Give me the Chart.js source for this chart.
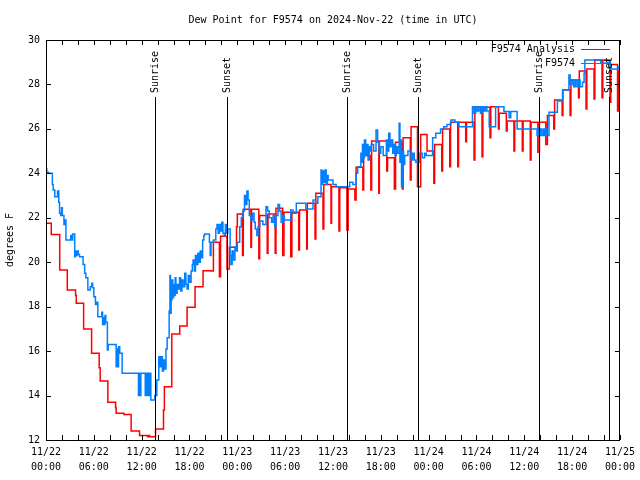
<!DOCTYPE html>
<html><head><meta charset="utf-8">
<script src="https://cdn.jsdelivr.net/npm/chart.js@4.4.1/dist/chart.umd.min.js"></script>
<style>html,body{margin:0;padding:0;background:#fff}#wrap{width:640px;height:480px}</style>
</head><body><div id="wrap"><canvas id="c" width="640" height="480"></canvas></div>
<script>
const titleText = 'Dew Point for F9574 on 2024-Nov-22 (time in UTC)';
const yTitle = 'degrees F';
const xTickHours = [0, 6, 12, 18, 24, 30, 36, 42, 48, 54, 60, 66, 72];
const xTickDates = ['11/22','11/22','11/22','11/22','11/23','11/23','11/23','11/23','11/24','11/24','11/24','11/24','11/25'];
const xTickTimes = ['00:00','06:00','12:00','18:00','00:00','06:00','12:00','18:00','00:00','06:00','12:00','18:00','00:00'];
const yTickValues = [12, 14, 16, 18, 20, 22, 24, 26, 28, 30];
const sunHours = [13.65, 22.65, 37.78, 46.62, 61.86, 70.63];
const sunLabels = ['Sunrise', 'Sunset', 'Sunrise', 'Sunset', 'Sunrise', 'Sunset'];
const seriesNames = ['F9574 Analysis', 'F9574'];

// Analysis (hourly, with brief dips)
const anaHours = [0,0.66,1.72,2.67,3.71,3.8,4.72,5.72,6.67,6.8,7.76,8.73,8.8,9.77,10.68,11.73,12.73,12.9,13.0,13.74,14.74,14.85,15.78,16.78,17.7,18.7,19.7,20.7,21.0,21.75,21.9,22.7,23.0,23.9,24.0,24.65,24.75,25.7,25.78,26.7,26.8,27.75,27.85,28.75,28.85,29.7,29.85,30.7,30.85,31.7,31.8,32.7,32.78,33.75,33.85,34.75,34.85,35.75,35.82,36.75,36.85,37.75,37.9,38.75,38.9,39.75,39.85,40.75,40.85,41.75,41.82,42.75,42.85,43.7,43.85,44.7,44.8,45.7,45.8,46.6,47.0,47.8,48.65,48.75,49.65,49.75,50.65,50.75,51.65,51.75,52.65,52.75,53.7,53.8,54.7,54.8,55.7,55.8,56.75,56.85,57.75,57.85,58.7,58.8,59.75,59.85,60.75,60.85,61.7,61.9,62.7,62.9,63.7,63.8,64.75,64.85,65.75,65.85,66.8,66.9,67.75,67.85,68.75,68.85,69.75,69.85,70.75,70.85,71.7,71.8,72];
const anaDewF = [21.75,21.25,19.65,18.75,18.5,18.15,17.0,15.9,15.25,14.65,13.7,13.45,13.2,13.15,12.4,12.2,12.15,12.2,12.15,12.5,13.35,14.4,16.77,17.13,17.97,18.9,19.62,19.6,20.9,19.35,21.17,19.7,20.67,21.6,22.17,20.3,22.38,20.67,22.38,20.16,22.1,20.4,22.17,20.4,22.43,20.3,22.25,20.25,22.25,20.55,22.35,20.6,22.65,21.05,23.1,21.5,23.5,21.75,23.4,21.4,23.35,21.45,23.3,22.8,24.27,23.25,24.8,23.25,25.45,23.1,25.45,24.1,24.7,23.3,25.4,23.3,25.6,23.7,26.1,23.4,25.75,25.0,23.55,25.3,24.1,26.0,24.3,26.3,24.3,26.3,25.42,26.3,24.6,26.97,24.75,26.97,25.6,27.0,26.0,26.7,25.9,26.35,25.0,26.35,25.0,26.35,24.6,26.3,24.95,26.3,25.3,26.6,26.0,27.3,26.6,27.75,26.6,28.2,27.4,28.6,26.9,28.7,27.35,29.1,27.4,29.1,27.2,28.9,26.8,28.6,28.6];

// Observations
const obsHours = [0,0.1,0.2,0.3,0.8,0.9,1.1,1.45,1.6,1.7,1.85,1.95,2.05,2.25,2.35,2.5,3.1,3.2,3.35,3.6,3.7,3.8,3.9,4.05,4.2,4.65,4.85,5.0,5.25,5.55,5.75,5.85,6.0,6.2,6.35,6.5,7.0,7.1,7.2,7.3,7.4,7.5,7.7,7.8,8.8,8.9,9.0,9.1,9.25,9.55,11.6,11.7,11.8,11.9,12.45,12.55,12.7,12.8,12.95,13.05,13.15,13.65,13.9,14.15,14.3,14.45,14.6,14.75,14.9,15.05,15.2,15.3,15.45,15.55,15.62,15.7,15.8,15.9,16.0,16.1,16.2,16.3,16.45,16.6,16.75,16.9,17.05,17.2,17.4,17.55,17.7,17.85,18.0,18.2,18.35,18.45,18.6,18.75,18.9,19.05,19.2,19.35,19.5,19.65,19.8,19.9,20.5,20.6,20.7,21.0,21.3,21.45,21.6,21.75,21.9,22.05,22.2,22.35,22.5,22.65,22.8,23.1,23.2,23.35,23.5,23.7,23.85,24.0,24.3,24.5,24.7,24.9,25.05,25.2,25.35,25.5,25.7,25.9,26.1,26.25,26.45,26.6,26.8,27.2,27.6,27.8,28.0,28.3,28.5,28.7,28.85,29.1,29.3,29.5,29.7,29.9,30.7,31.0,31.4,32.6,33.5,33.8,34.1,34.5,34.6,34.7,34.85,35.0,35.15,35.3,35.4,36.0,36.4,38.1,38.5,38.9,39.1,39.5,39.6,39.7,39.8,39.95,40.1,40.25,40.4,40.55,40.7,40.8,41.1,41.4,41.6,41.8,42.0,42.3,42.7,42.85,43.0,43.15,43.3,43.5,43.65,43.8,43.95,44.1,44.3,44.4,44.5,44.6,44.7,44.85,45.0,45.4,45.8,46.0,46.2,46.4,46.8,47.2,47.5,47.7,48.5,48.9,49.5,49.9,50.3,50.8,51.3,51.8,53.5,53.7,53.9,54.1,54.3,54.5,54.7,54.9,55.1,55.3,55.6,56.4,57.45,58.1,58.3,59.1,61.6,61.75,61.9,62.05,62.2,62.4,62.55,62.7,62.85,63.1,64.15,64.8,65.6,65.75,66.0,66.2,66.4,66.6,66.8,67.0,67.3,67.5,67.6,69.6,70.4,70.8,71.8,72];
const obsDewF = [24.2,24.0,24.05,24.0,23.5,23.25,22.95,23.2,22.7,22.2,22.1,22.45,22.1,21.7,21.9,21.0,21.2,21.0,21.27,20.25,20.5,20.3,20.5,20.35,20.25,19.9,19.5,19.3,18.75,18.9,19.05,18.85,18.45,18.1,18.2,17.55,17.75,17.2,17.5,17.2,17.6,17.3,16.05,16.3,15.3,16.1,15.3,16.2,15.9,15.0,14.0,15.0,14.0,15.0,14.0,15.0,14.0,15.0,14.0,15.0,13.8,14.0,14.7,15.75,15.3,15.75,15.1,15.6,15.2,16.1,16.6,16.6,17.8,19.4,17.7,18.3,19.2,18.4,19.0,18.5,19.3,18.6,19.0,18.8,19.3,18.7,19.2,18.9,19.5,19.0,18.8,19.4,19.1,19.6,19.9,20.1,19.6,20.3,19.9,20.4,20.0,20.5,20.2,21.0,21.2,21.27,20.9,20.3,20.9,21.0,21.5,21.7,21.3,21.7,21.4,21.8,21.3,21.2,21.7,21.3,21.5,20.3,19.9,20.5,20.1,20.7,20.5,20.9,21.6,22.0,22.3,23.0,22.6,23.2,22.8,22.1,21.9,22.2,21.8,21.5,21.2,21.6,21.85,21.7,22.5,22.3,22.0,21.8,22.1,21.6,22.1,22.6,22.3,21.8,22.1,21.9,22.35,22.2,22.65,22.4,22.8,22.65,22.95,24.15,23.5,24.1,23.6,24.15,23.5,23.9,23.7,23.5,23.4,23.6,23.5,24.0,24.3,24.9,24.5,25.3,24.7,25.5,24.8,25.3,24.6,25.2,25.0,25.3,25.0,25.95,25.4,24.9,25.2,24.8,25.5,25.0,25.8,25.2,25.5,24.9,25.3,24.8,25.2,24.9,26.25,24.5,25.5,23.4,25.0,24.4,24.8,25.0,24.6,24.9,24.6,24.5,24.9,24.7,24.9,24.8,25.6,25.8,26.0,26.1,26.2,26.4,26.3,26.1,27.0,26.7,27.0,26.8,27.0,26.7,27.0,26.8,27.0,26.8,26.1,27.0,26.78,26.5,26.78,26.0,25.7,26.0,25.7,26.0,25.7,26.0,25.7,26.0,25.7,26.75,27.25,27.75,28.43,28.0,28.2,27.9,28.2,27.9,28.2,27.9,28.1,28.5,29.1,28.95,29.0,28.7,28.8,28.8];

const FONT = 'DejaVu Sans Mono';
const RED = '#ff0000';
const BLUE = 'rgb(0,128,255)';

const decor = {
  id: 'decor',
  afterDatasetsDraw(chart) {
    const ctx = chart.ctx;
    const a = chart.chartArea;
    const xs = chart.scales.x, ys = chart.scales.y;
    ctx.save();
    ctx.strokeStyle = '#000';
    ctx.lineWidth = 1;
    ctx.strokeRect(Math.round(a.left) + 0.5, Math.round(a.top) + 0.5,
      Math.round(a.right - a.left) - 1, Math.round(a.bottom - a.top));
    ctx.beginPath();
    for (let h = 0; h <= 72; h += 2) {
      const px = Math.round(xs.getPixelForValue(h)) + 0.5;
      ctx.moveTo(px, a.bottom); ctx.lineTo(px, a.bottom - 5);
      ctx.moveTo(px, a.top); ctx.lineTo(px, a.top + 5);
    }
    yTickValues.forEach(v => {
      const py = Math.round(ys.getPixelForValue(v)) + 0.5;
      ctx.moveTo(a.left, py); ctx.lineTo(a.left + 5, py);
      ctx.moveTo(a.right, py); ctx.lineTo(a.right - 5, py);
    });
    ctx.stroke();
    ctx.fillStyle = '#000';
    ctx.font = '10px "' + FONT + '"';
    sunHours.forEach((h, i) => {
      const px = Math.round(xs.getPixelForValue(h)) + 0.5;
      ctx.beginPath();
      ctx.moveTo(px, 97); ctx.lineTo(px, a.bottom);
      ctx.stroke();
      ctx.save();
      ctx.translate(px, 93);
      ctx.rotate(-Math.PI / 2);
      ctx.textAlign = 'left';
      ctx.textBaseline = 'middle';
      ctx.fillText(sunLabels[i], 0, 0);
      ctx.restore();
    });
    ctx.textAlign = 'center';
    ctx.textBaseline = 'middle';
    ctx.fillText(titleText, (a.left + a.right) / 2, 20);
    ctx.textAlign = 'right';
    const rows = [[seriesNames[0], RED, 49], [seriesNames[1], BLUE, 63]];
    rows.forEach(r => {
      ctx.fillStyle = '#000';
      ctx.fillText(r[0], 575, r[2]);
      ctx.strokeStyle = r[1];
      ctx.beginPath();
      ctx.moveTo(581, r[2] + 0.5); ctx.lineTo(610, r[2] + 0.5);
      ctx.stroke();
    });
    ctx.restore();
  }
};

new Chart(document.getElementById('c'), {
  type: 'line',
  data: {
    datasets: [
      { label: seriesNames[1], data: obsHours.map((h, i) => ({ x: h, y: obsDewF[i] })),
        borderColor: BLUE, borderWidth: 1.5, pointRadius: 0, stepped: 'before', fill: false, order: 0 },
      { label: seriesNames[0], data: anaHours.map((h, i) => ({ x: h, y: anaDewF[i] })),
        borderColor: RED, borderWidth: 1.5, pointRadius: 0, stepped: 'before', fill: false, order: 1 }
    ]
  },
  options: {
    responsive: false,
    animation: false,
    devicePixelRatio: 1,
    layout: { padding: { top: 40, right: 19, left: 0, bottom: 0 } },
    plugins: { legend: { display: false }, tooltip: { enabled: false }, title: { display: false } },
    scales: {
      x: {
        type: 'linear', min: 0, max: 72,
        afterBuildTicks: s => { s.ticks = xTickHours.map(v => ({ value: v })); },
        afterFit: s => { s.height = 40; },
        ticks: {
          autoSkip: false, maxRotation: 0, minRotation: 0, padding: 5, color: '#000',
          font: { family: FONT, size: 10, lineHeight: 1.5 },
          callback: v => { const i = xTickHours.indexOf(v); return i >= 0 ? [xTickDates[i], xTickTimes[i]] : ''; }
        },
        grid: { display: false, drawTicks: false },
        border: { display: false }
      },
      y: {
        min: 12, max: 30,
        afterBuildTicks: s => { s.ticks = yTickValues.map(v => ({ value: v })); },
        afterFit: s => { s.width = 46; },
        ticks: { padding: 6, color: '#000', font: { family: FONT, size: 10 } },
        grid: { display: false, drawTicks: false },
        border: { display: false },
        title: { display: true, text: yTitle, color: '#000', font: { family: FONT, size: 10 }, padding: { top: 4, bottom: 0 } }
      }
    }
  },
  plugins: [decor]
});
</script></body></html>
